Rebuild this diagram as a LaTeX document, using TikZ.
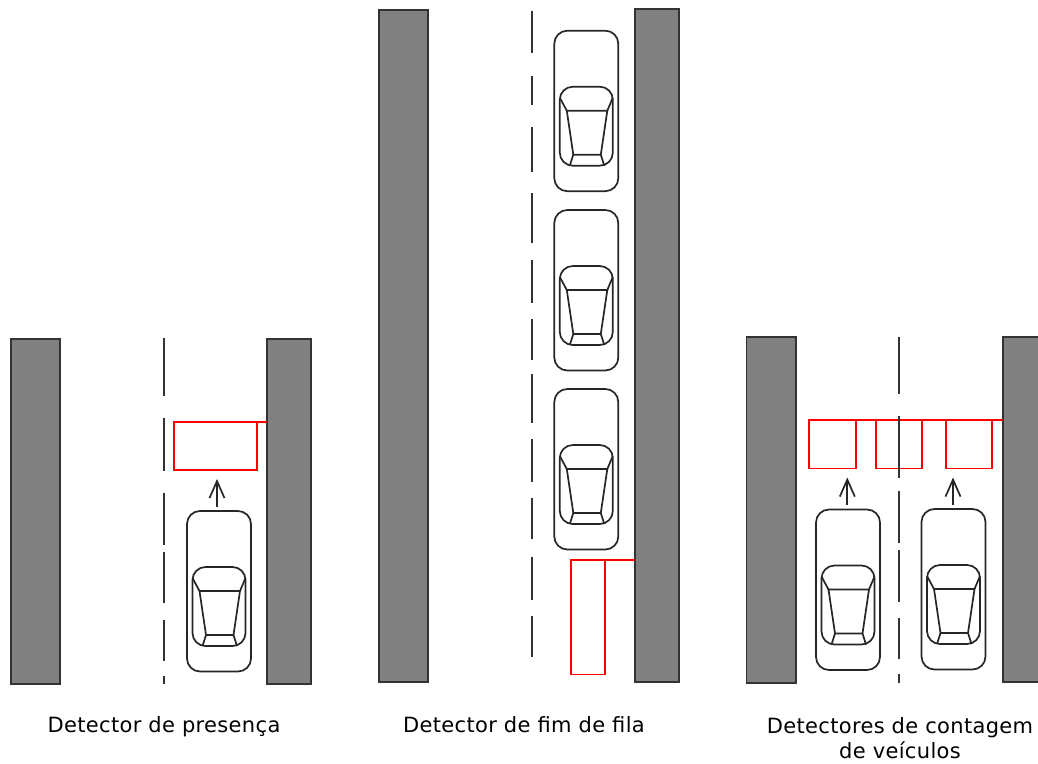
\documentclass[tikz,border=0pt]{standalone}
\usepackage{fontspec}
\setmainfont{DejaVu Sans}[LetterSpace=1.6]
\usetikzlibrary{arrows.meta, positioning}

\begin{document}
\begin{tikzpicture}[
  x=1pt, y=-1pt,
  >={Straight Barb[length=17pt, width=15pt]},
  roadbox/.style={draw=black!80, fill=black!50, line width=1.8pt, anchor=north west, inner sep=0pt, outer sep=0pt},
  detbox/.style={draw=red, line width=1.8pt, anchor=north west, inner sep=0pt, outer sep=0pt},
  detline/.style={draw=red, line width=1.8pt},
  laneline/.style={draw=black!80, line width=2pt},
  flowarrow/.style={->, draw=black!85, line width=1.7pt},
  caption/.style={font=\fontsize{21}{25}\selectfont, align=center, inner sep=0pt},
  vehicle/.pic={
    \draw[black!85, line width=1.7pt, rounded corners=13pt] (0,0) rectangle (64,160.5);
    \draw[black!85, line width=1.7pt, rounded corners=13pt] (5.5,56) rectangle (58.5,135);
    \draw[black!85, line width=1.7pt] (12.5,80) -- (53,80) -- (46.5,124) -- (19,124) -- cycle;
    \draw[black!85, line width=1.7pt] (5.5,67) -- (12.5,80) (58.5,67) -- (53,80);
    \draw[black!85, line width=1.7pt] (19,124) -- (15.5,135) (46.5,124) -- (50,135);
  }
]
\useasboundingbox (0,0) rectangle (1038,763);

% Left panel: presence detector
\node[roadbox, minimum width=49, minimum height=345] (roadAl) at (11,339) {};
\node[roadbox, minimum width=44, minimum height=345] (roadAr) at (267.3,339) {};
\foreach \ya/\yb in {338.3/395.7, 417.7/471.3, 493/544.7, 551.7/603.3, 620/661, 675.7/684}
  \draw[laneline] (163.7,\ya) -- (163.7,\yb);
\node[detbox, minimum width=83, minimum height=48.5] (detA) at (174.3,421.7) {};
\draw[detline] (detA.north east) -- (detA.north east -| roadAr.west);
\pic at (187,511) {vehicle};
\coordinate (arrowAs) at (217,507);
\coordinate (arrowAe) at (217,479);
\draw[flowarrow] (arrowAs) -- (arrowAe);
\node[caption] (capA) at (164,727) {Detector de presença};

% Middle panel: end of queue detector
\node[roadbox, minimum width=49, minimum height=672] (roadBl) at (379,10) {};
\node[roadbox, minimum width=43.5, minimum height=672.5] (roadBr) at (635.3,9.3) {};
\foreach \ya/\yb in {10.7/53.3, 75.7/105.3, 127.3/172, 193.3/243.3, 259.7/302.7, 319/360, 374.3/422.7, 439/482, 498.3/539.3, 557.3/600, 616.3/657.3}
  \draw[laneline] (531.5,\ya) -- (531.5,\yb);
\foreach \yc in {30.7, 210, 389}
  \pic at (554.3,\yc) {vehicle};
\node[detbox, minimum width=34, minimum height=114.7] (detB) at (571,559.7) {};
\draw[detline] (detB.north east) -- (detB.north east -| roadBr.west);
\node[caption] (capB) at (524,725) {Detector de fim de fila};

% Right panel: vehicle counting detectors
\node[roadbox, minimum width=49.5, minimum height=346] (roadCl) at (746.5,337) {};
\node[roadbox, minimum width=37, minimum height=345] (roadCr) at (1002.7,337) {};
\node[detbox, minimum width=47, minimum height=48.5] (detCa) at (809,420) {};
\node[detbox, minimum width=46.6, minimum height=48.5] (detCb) at (875.7,420) {};
\node[detbox, minimum width=46.6, minimum height=48.5] (detCc) at (945.7,420) {};
\draw[detline] (detCa.north west) -- (detCa.north west -| roadCr.west);
\foreach \ya/\yb in {336.7/394, 415.7/478, 491/542.7, 550/602, 618.3/659.3, 673.7/682.7}
  \draw[laneline] (899,\ya) -- (899,\yb);
\pic at (816,509.5) {vehicle};
\pic at (921.5,509) {vehicle};
\coordinate (arrowBs) at (847.3,505);
\coordinate (arrowBe) at (847.3,477.5);
\coordinate (arrowCs) at (953,505);
\coordinate (arrowCe) at (953,477.5);
\draw[flowarrow] (arrowBs) -- (arrowBe);
\draw[flowarrow] (arrowCs) -- (arrowCe);
\node[caption] (capC) at (900,738.5) {Detectores de contagem\\de veículos};
\end{tikzpicture}
\end{document}
